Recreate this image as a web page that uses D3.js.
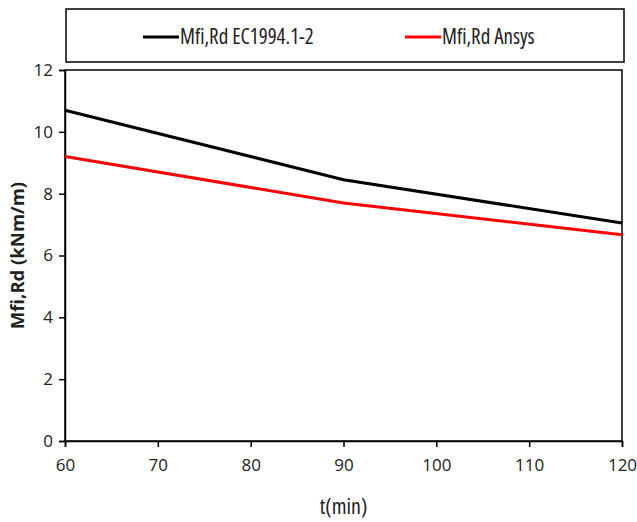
<!DOCTYPE html>
<html lang="en">
<head>
<meta charset="UTF-8">
<title>Mfi,Rd</title>
<script src="https://d3js.org/d3.v7.min.js"></script>
<style>
  body { margin: 0; background: #fff; }
  text { font-family: "Open Sans", "Liberation Sans", sans-serif; fill: #222; }
</style>
</head>
<body>
<div class="chart"></div>
<script>
// data
const times = [60, 90, 120];
const ecValues = [10.7, 8.45, 7.05];
const ansysValues = [9.2, 7.7, 6.67];
const seriesNames = ["Mfi,Rd EC1994.1-2", "Mfi,Rd Ansys"];
const seriesColors = ["#000000", "#ff0000"];
const xTicks = [60, 70, 80, 90, 100, 110, 120];
const yTicks = [0, 2, 4, 6, 8, 10, 12];

const w = 637, h = 522;
const margin = { top: 70, right: 15, bottom: 81, left: 65 };

const svg = d3.select(".chart").append("svg").attr("width", w).attr("height", h);

const x = d3.scaleLinear().domain([60, 120]).range([margin.left, w - margin.right]);
const y = d3.scaleLinear().domain([0, 12]).range([h - margin.bottom, margin.top]);

// plot box
svg.append("rect")
  .attr("x", x(60)).attr("y", y(12))
  .attr("width", x(120) - x(60)).attr("height", y(0) - y(12))
  .attr("fill", "none").attr("stroke", "#000").attr("stroke-width", 1.5);

// axes
const xAxis = svg.append("g")
  .attr("transform", `translate(0, ${y(0)})`)
  .call(d3.axisBottom(x).tickValues(xTicks).tickSize(6).tickPadding(12));
const yAxis = svg.append("g")
  .attr("transform", `translate(${x(60)}, 0)`)
  .call(d3.axisLeft(y).tickValues(yTicks).tickSize(6).tickPadding(6));

[xAxis, yAxis].forEach(g => {
  g.select(".domain").attr("stroke", "#000").attr("stroke-width", 1.5);
  g.selectAll(".tick line").attr("stroke", "#000").attr("stroke-width", 1.5);
  g.selectAll(".tick text").attr("font-size", 17).attr("fill", "#222")
    .attr("font-family", "'Open Sans', sans-serif");
});

// lines
const line = d3.line().x((d, i) => x(times[i])).y(d => y(d));
[ecValues, ansysValues].forEach((vals, k) => {
  svg.append("path")
    .datum(vals)
    .attr("d", line)
    .attr("fill", "none")
    .attr("stroke", seriesColors[k])
    .attr("stroke-width", 3);
});

// axis titles
svg.append("text")
  .attr("x", (x(60) + x(120)) / 2)
  .attr("y", 514)
  .attr("text-anchor", "middle")
  .attr("font-size", 22)
  .style("font-stretch", "condensed")
  .text("t(min)");

svg.append("text")
  .attr("transform", `translate(24, ${(y(0) + y(12)) / 2}) rotate(-90)`)
  .attr("text-anchor", "middle")
  .attr("font-size", 18.5)
  .attr("font-weight", "bold")
  .text("Mfi,Rd (kNm/m)");

// legend
svg.append("rect")
  .attr("x", 66).attr("y", 9)
  .attr("width", 558).attr("height", 53)
  .attr("fill", "#fff").attr("stroke", "#000").attr("stroke-width", 1.5);

const legendX = [143, 405];
seriesNames.forEach((name, k) => {
  svg.append("line")
    .attr("x1", legendX[k]).attr("x2", legendX[k] + 36)
    .attr("y1", 37).attr("y2", 37)
    .attr("stroke", seriesColors[k]).attr("stroke-width", 3);
  svg.append("text")
    .attr("x", legendX[k] + 37).attr("y", 44)
    .attr("font-size", 21)
    .style("font-stretch", "condensed")
    .text(name);
});
</script>
</body>
</html>
